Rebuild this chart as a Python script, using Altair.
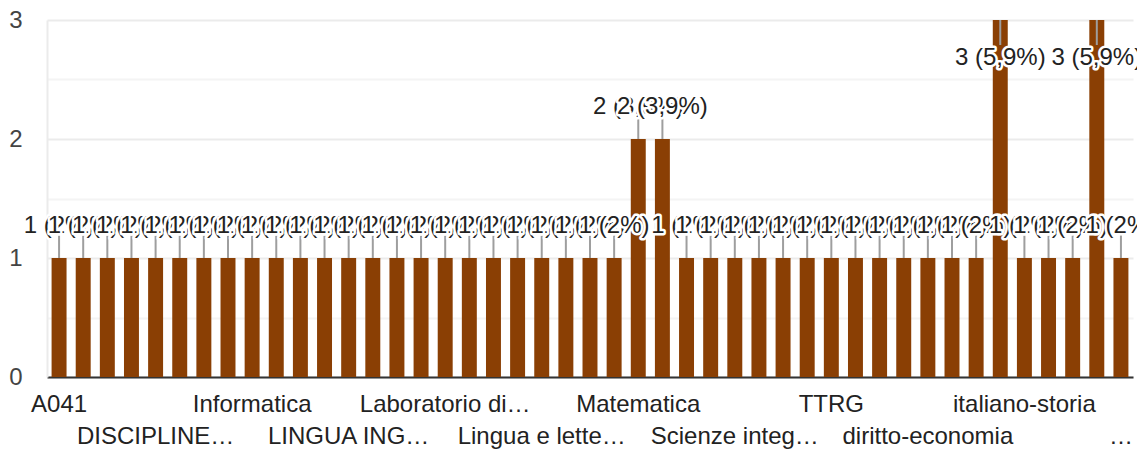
import json
import altair as alt
import pandas as pd

categories = [
    "A041", "A046", "Chimica", "DIRITTO",
    "DISCIPLINE LETTERARIE", "Diritto", "Economia aziendale", "Fisica",
    "Informatica", "Inglese", "Italiano", "Italiano e storia",
    "LINGUA INGLESE", "LINGUA ITALIANA", "LINGUA SPAGNOLA", "Lab. chimica",
    "Laboratorio di scienze e tecnologie", "Laboratorio tecnico", "Lettere", "Lingua e cultura inglese",
    "Lingua e letteratura italiana", "Lingua inglese", "Lingua spagnola", "Lingue straniere",
    "Matematica", "Matematica e fisica", "Meccanica", "Religione",
    "Scienze integrate (Fisica)", "Scienze motorie", "Sostegno", "Storia dell'arte",
    "TTRG", "Tecnologie informatiche", "Topografia", "chimica",
    "diritto-economia", "economia aziendale", "fisica", "italiano",
    "italiano-storia", "lettere", "lingua inglese", "matematica",
    "sostegno (area scientifica, area umanistica e area tecnica)",
]
values = [
    1, 1, 1, 1, 1, 1, 1, 1, 1, 1, 1, 1,
    1, 1, 1, 1, 1, 1, 1, 1, 1, 1, 1, 1,
    2, 2, 1, 1, 1, 1, 1, 1, 1, 1, 1, 1,
    1, 1, 1, 3, 1, 1, 1, 3, 1,
]
tick_every = 4
tick_labels = [
    "A041", "DISCIPLINE…", "Informatica", "LINGUA ING…",
    "Laboratorio di…", "Lingua e lette…", "Matematica", "Scienze integ…",
    "TTRG", "diritto-economia", "italiano-storia", "…",
]
y_ticks = [0, 0.5, 1, 1.5, 2, 2.5, 3]

BROWN = "#8a3f04"
FONT = "Liberation Sans"

total = sum(values)


def pct(v):
    s = f"{v / total * 100:.1f}".rstrip("0").rstrip(".")
    return s.replace(".", ",")


labels = [f"{v} ({pct(v)}%)" for v in values]
df = pd.DataFrame({
    "idx": list(range(len(categories))),
    "category": categories,
    "value": values,
    "label": labels,
})
ymax = max(y_ticks)

parts = []
for k, t in enumerate(tick_labels):
    cat = categories[k * tick_every]
    out = json.dumps(t, ensure_ascii=False) if k % 2 == 0 else json.dumps(["", t], ensure_ascii=False)
    parts.append(f"datum.value === {json.dumps(cat, ensure_ascii=False)} ? {out} : ")
label_expr = "".join(parts) + "''"

x_enc = alt.X(
    "category:N",
    sort=categories,
    title=None,
    scale=alt.Scale(paddingInner=0.38, paddingOuter=0.19),
    axis=alt.Axis(
        labelExpr=label_expr,
        labelAngle=0,
        labelOverlap=False,
        labelLimit=0,
        labelFontSize=24,
        labelColor="#222222",
        labelBaseline="top",
        labelLineHeight=32,
        labelPadding=15,
        labelFlush=False,
        ticks=False,
        grid=False,
        domainColor="#333333",
        domainWidth=2,
    ),
)
y_enc = alt.Y(
    "value:Q",
    title=None,
    scale=alt.Scale(domain=[0, ymax], nice=False),
    axis=alt.Axis(
        values=y_ticks,
        labelExpr="datum.value % 1 === 0 ? format(datum.value, 'd') : ''",
        labelFontSize=24,
        labelColor="#444444",
        labelPadding=25,
        ticks=False,
        grid=True,
        gridWidth=2,
        gridColor=alt.condition("datum.value % 1 === 0", alt.value("#ebebeb"), alt.value("#f4f4f4")),
        domainColor="#ebebeb",
        domainWidth=2,
    ),
)

base = alt.Chart(df)

bars = base.mark_bar(color=BROWN).encode(x=x_enc, y=y_enc)

stems_above = base.transform_filter(f"datum.value < {ymax}").mark_rule(
    color="#9e9e9e", strokeWidth=2, y2Offset=-24
).encode(x=x_enc, y=y_enc, y2=alt.Y2("value:Q"))

stems_inside = base.transform_filter(f"datum.value >= {ymax}").mark_rule(
    color="#9e9e9e", strokeWidth=2, y2Offset=25
).encode(x=x_enc, y=y_enc, y2=alt.Y2("value:Q"))

layers = [bars, stems_above, stems_inside]
for i, v in enumerate(values):
    dy = 45 if v >= ymax else -25
    sub = base.transform_filter(f"datum.idx === {i}")
    halo = sub.mark_text(
        fontSize=24, dy=dy, baseline="alphabetic", fill="white",
        stroke="white", strokeWidth=5, strokeJoin="round"
    ).encode(x=x_enc, y=y_enc, text="label:N")
    txt = sub.mark_text(
        fontSize=24, dy=dy, baseline="alphabetic", fill="#222222"
    ).encode(x=x_enc, y=y_enc, text="label:N")
    layers += [halo, txt]

chart = alt.layer(*layers).properties(
    width=1086,
    height=357,
    autosize=alt.AutoSizeParams(type="none"),
    padding={"left": 39, "top": 12, "right": 4, "bottom": 74},
).configure(font=FONT).configure_view(stroke=None)

chart.save("out.html", embed_options={"renderer": "svg", "actions": False})
